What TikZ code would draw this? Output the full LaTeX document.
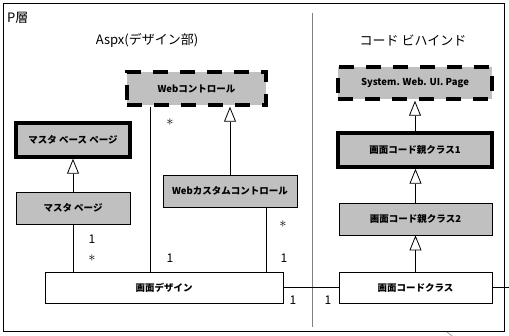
\documentclass[tikz,border=0pt]{standalone}
\usepackage{fontspec}
\setmainfont{Noto Sans CJK JP}
\usetikzlibrary{arrows.meta}
\definecolor{boxgray}{RGB}{192,192,192}
\tikzset{
  cls/.style={draw=black, line width=0.8pt, fill=boxgray, inner sep=0pt, font=\fontsize{9.5}{10}\selectfont\bfseries},
  thickbox/.style={cls, line width=3.5pt},
  dashbox/.style={cls, line width=3.5pt, dash pattern=on 15pt off 12pt},
  plainbox/.style={cls, fill=white},
  inh/.style={-{Triangle[open, fill=white, length=15pt, width=12pt]}, line width=0.8pt},
  assoc/.style={line width=0.8pt},
  lbl/.style={font=\fontsize{12}{12}\selectfont, inner sep=0pt},
  star/.style={font=\fontsize{14}{14}\selectfont, inner sep=0pt},
  title/.style={font=\fontsize{13}{14}\selectfont, inner sep=0pt}
}
\begin{document}
\begin{tikzpicture}[x=1pt, y=-1pt]
\useasboundingbox (0,0) rectangle (509,336);
\draw[line width=0.8pt] (3,3) rectangle (504,331);
\draw[line width=0.6pt, gray] (312,13) -- (312,327);
\draw[line width=0.5pt, gray] (447,332) -- (452,336);

\node[title, anchor=west] (player) at (7,18) {P層};
\node[title] (tleft) at (147,40) {Aspx(デザイン部)};
\node[title] (tright) at (413,40) {コード ビハインド};

\node[dashbox, minimum width=139pt, minimum height=33pt] (web) at (196.5,88.5) {Webコントロール};
\node[dashbox, minimum width=154pt, minimum height=32pt] (sys) at (415,83) {System. Web. UI. Page};
\node[thickbox, minimum width=114pt, minimum height=34pt] (mbase) at (73,140) {マスタ ベース ページ};
\node[thickbox, minimum width=154pt, minimum height=34pt] (oya1) at (415,150) {画面コード親クラス1};
\node[cls, minimum width=114pt, minimum height=32pt] (mpage) at (73,208) {マスタ ページ};
\node[cls, minimum width=134pt, minimum height=32pt] (wcustom) at (230,191) {Webカスタムコントロール};
\node[cls, minimum width=153pt, minimum height=32pt] (oya2) at (415.5,219) {画面コード親クラス2};
\node[plainbox, minimum width=238pt, minimum height=31pt] (design) at (164,287.5) {画面デザイン};
\node[plainbox, minimum width=153pt, minimum height=31pt] (code) at (415.5,287.5) {画面コードクラス};
\coordinate (rightend) at (509,287.5);

% inheritance
\draw[inh] (mpage.north) -- (mbase.south);
\draw[inh] (wcustom.north) -- (wcustom.north |- web.south);
\draw[inh] (oya1.north) -- (oya1.north |- sys.south);
\draw[inh] (oya2.north) -- (oya2.north |- oya1.south);
\draw[inh] (code.north) -- (code.north |- oya2.south);

% associations
\draw[assoc] (mpage.south) -- (mpage.south |- design.north);
\draw[assoc] ([xshift=25pt]web.south west) -- ([xshift=25pt]web.south west |- design.north);
\draw[assoc] ([xshift=-31pt]wcustom.south east) -- ([xshift=-31pt]wcustom.south east |- design.north);
\draw[assoc] (design.east) -- (code.west);
\draw[assoc] (code.east) -- (rightend);

% multiplicities
\node[lbl] (m1) at (92,239) {1};
\node[star] (m2) at (92,258) {$\ast$};
\node[star] (m3) at (170,122) {$\ast$};
\node[lbl] (m4) at (170,258) {1};
\node[star] (m5) at (283,224) {$\ast$};
\node[lbl] (m6) at (284,258) {1};
\node[lbl] (m7) at (293,300) {1};
\node[lbl] (m8) at (328,300) {1};
\end{tikzpicture}
\end{document}
